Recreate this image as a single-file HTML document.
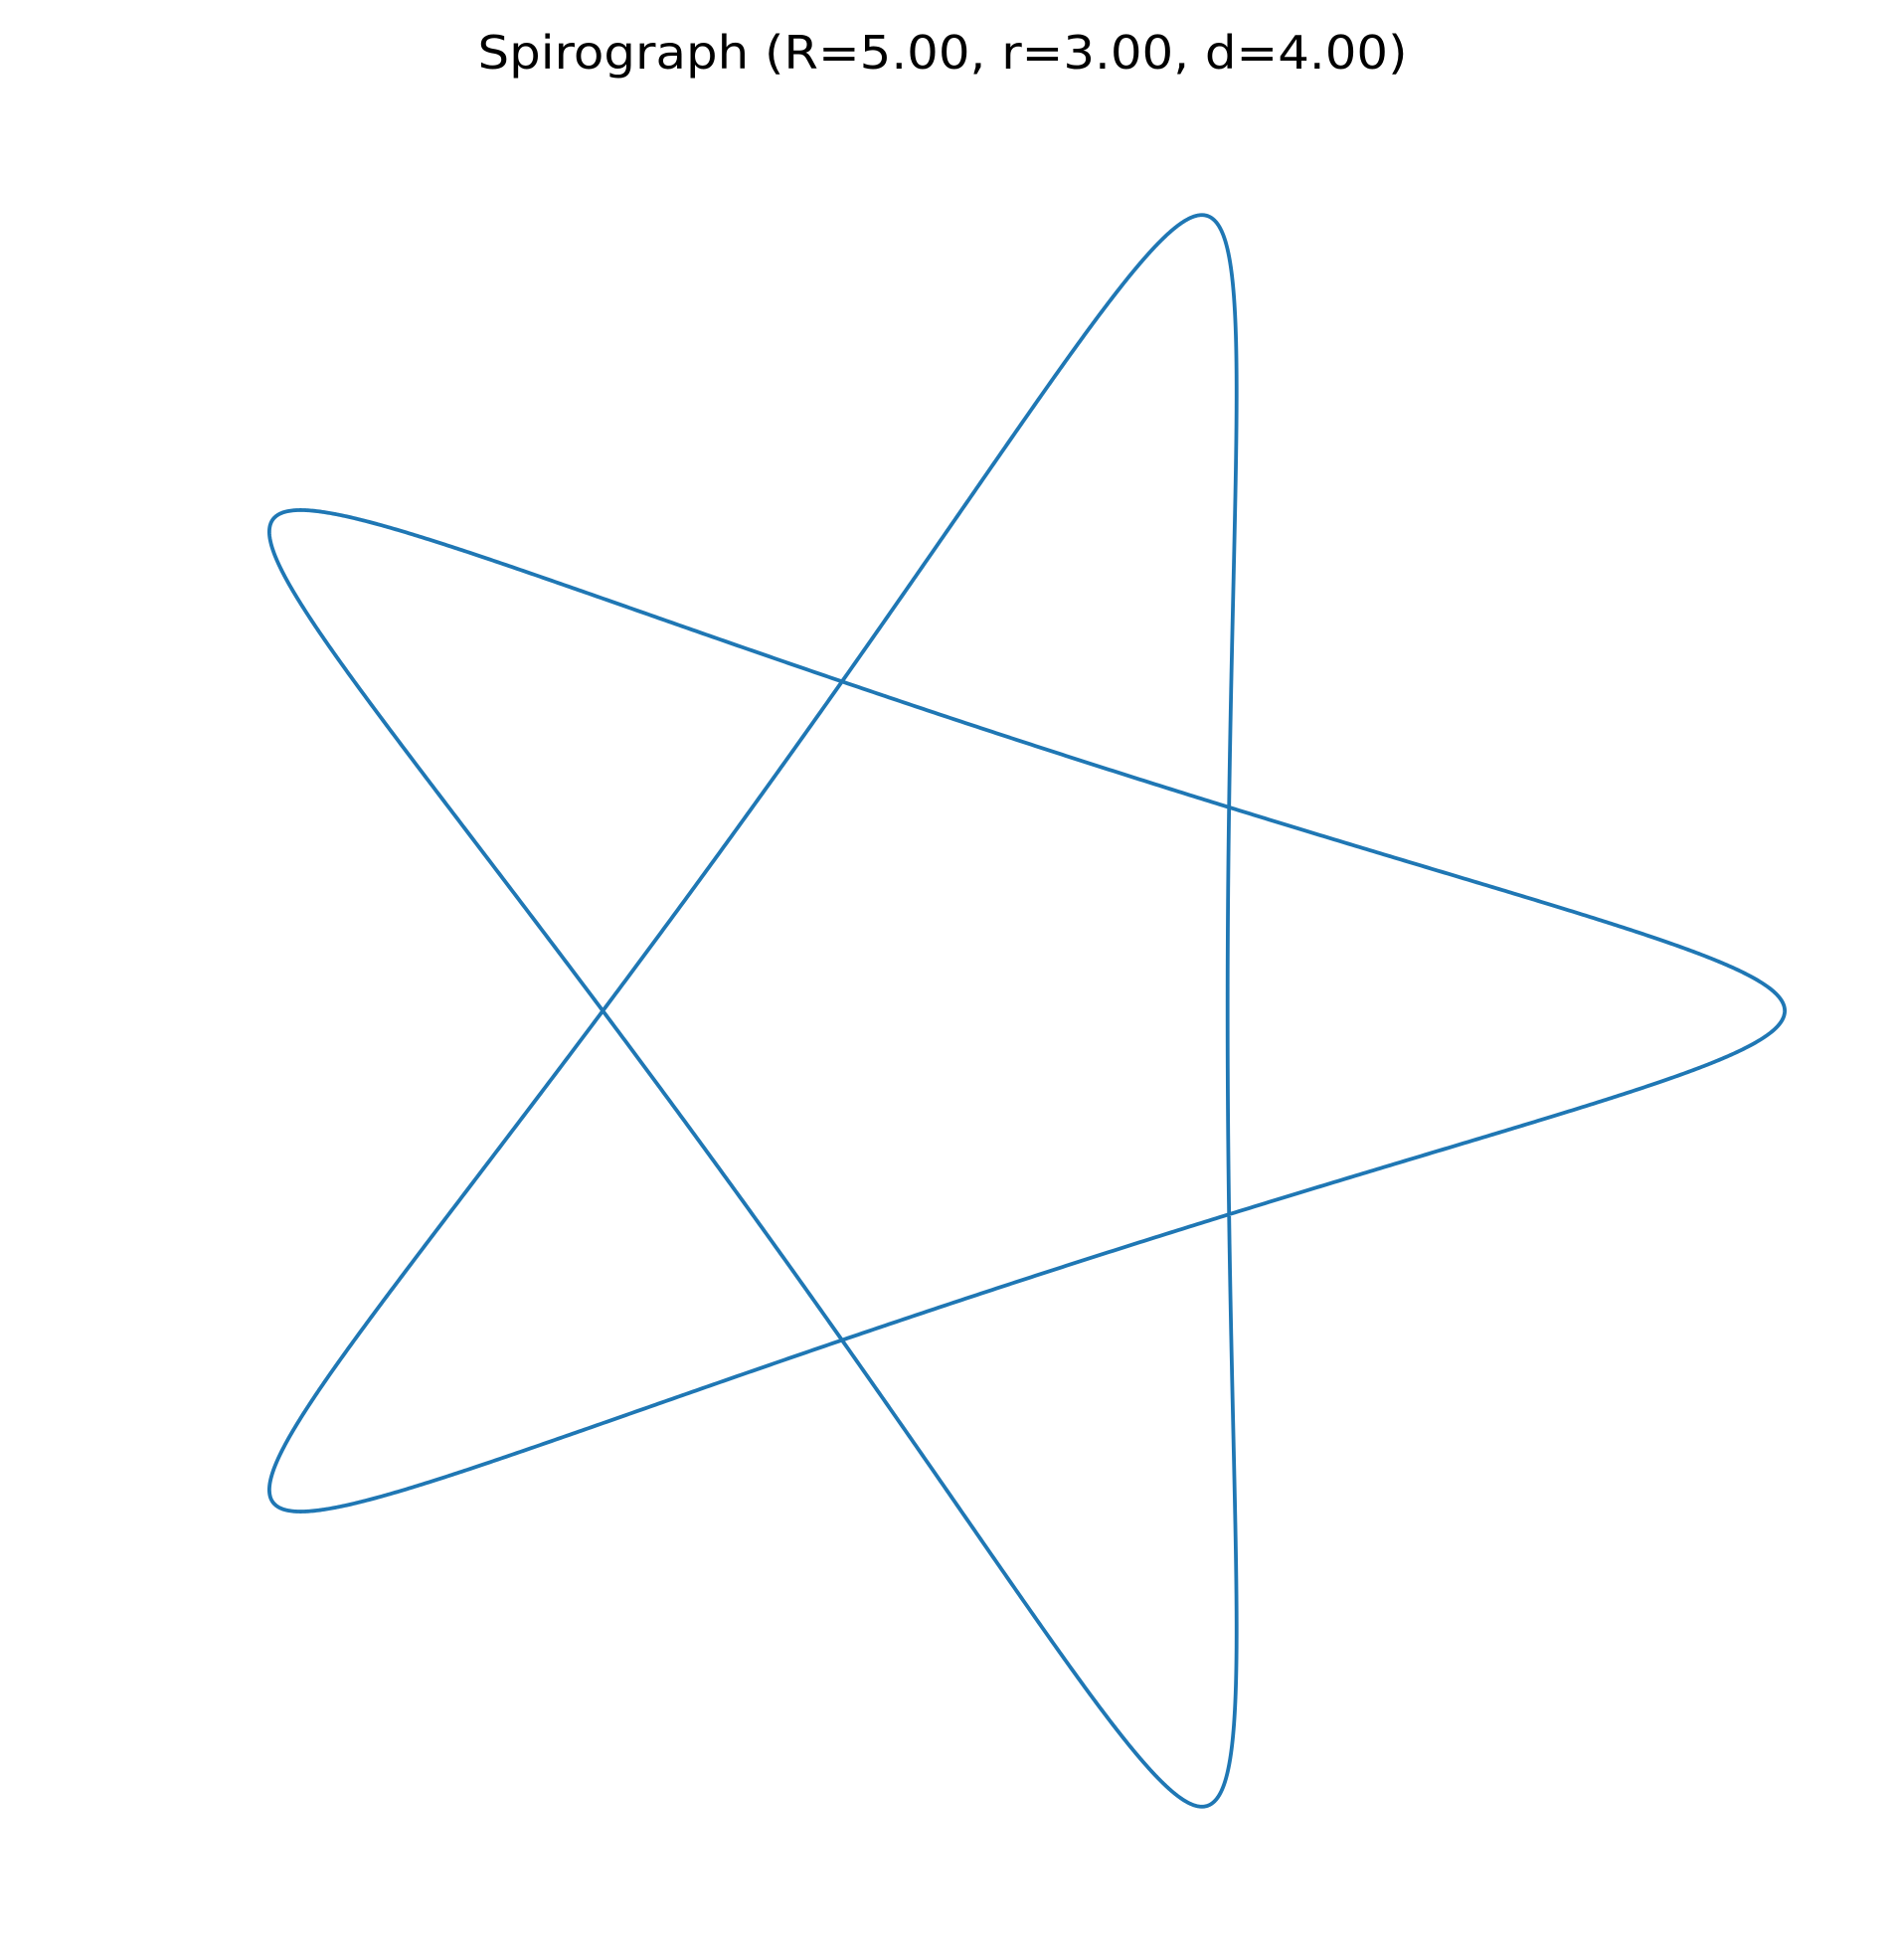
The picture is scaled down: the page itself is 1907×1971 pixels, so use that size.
<!DOCTYPE html>
<html><head><meta charset="utf-8"><style>
html,body{margin:0;padding:0;background:#fff;}
svg{display:block;}
</style></head><body>
<svg id="chart" width="1907" height="1971" viewBox="0 0 1907 1971">
<text x="948" y="69" text-anchor="middle" font-family="DejaVu Sans, Liberation Sans, sans-serif" font-size="46" textLength="935" lengthAdjust="spacingAndGlyphs" fill="#000">Spirograph (R=5.00, r=3.00, d=4.00)</text>
<path id="curve" fill="none" stroke="#1f77b4" stroke-width="3.8" stroke-linejoin="round"/>
</svg>
<script>
const paramNames = ["R", "r", "d"];
const paramValues = [5.0, 3.0, 4.0];
const centerPx = [954.5, 1016.5];
const unitPx = 140.1;
function sx(x){ return centerPx[0] + x * unitPx; }
function sy(y){ return centerPx[1] - y * unitPx; }
const R = paramValues[0], r = paramValues[1], d = paramValues[2];
let pts = [];
const N = 3000, tMax = 2 * Math.PI * r;
for (let i = 0; i <= N; i++) {
  const t = tMax * i / N;
  const x = (R - r) * Math.cos(t) + d * Math.cos((R - r) / r * t);
  const y = (R - r) * Math.sin(t) - d * Math.sin((R - r) / r * t);
  pts.push((i ? "L" : "M") + sx(x).toFixed(2) + " " + sy(y).toFixed(2));
}
document.getElementById("curve").setAttribute("d", pts.join(""));
</script>
</body></html>
